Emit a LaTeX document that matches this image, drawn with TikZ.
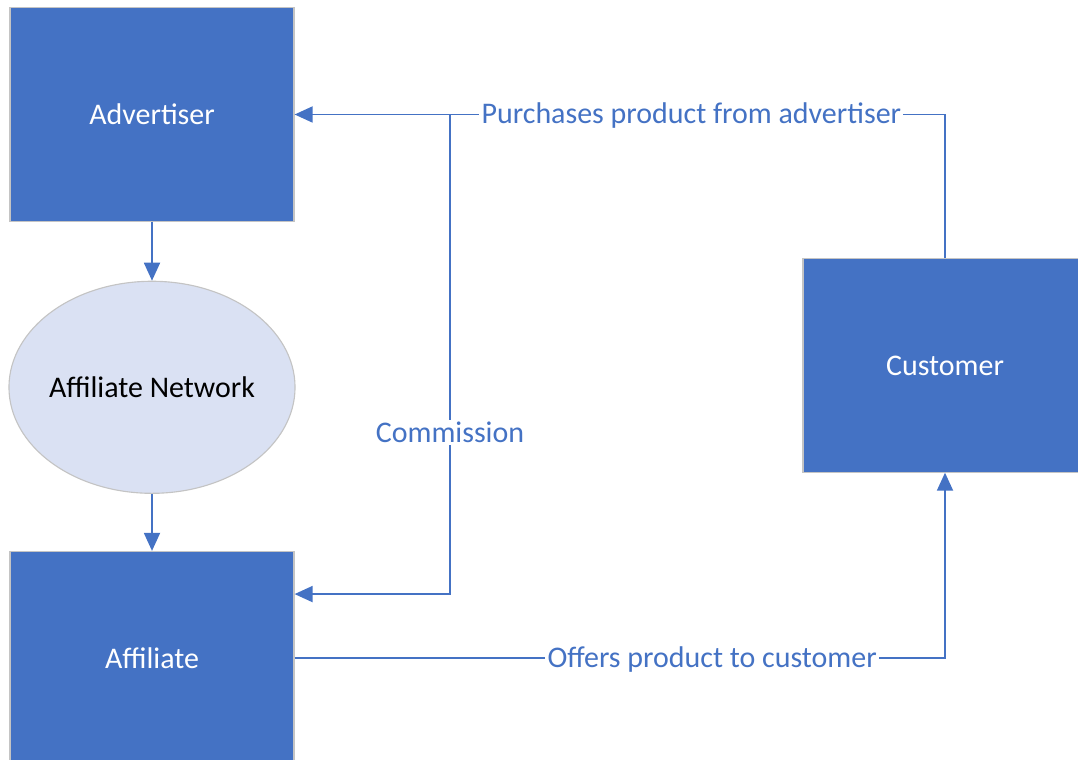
\documentclass[tikz,border=0pt]{standalone}
\usepackage{fontspec}
\setmainfont{Carlito}
\usetikzlibrary{positioning,shapes.geometric,arrows.meta}
\definecolor{boxblue}{HTML}{4472C4}
\definecolor{netfill}{HTML}{DAE1F3}
\definecolor{rimgray}{HTML}{C4C4C4}

\begin{document}
\begin{tikzpicture}[
    x=0.025cm, y=-0.025cm,
    every node/.style={font=\fontsize{21.3}{25}\selectfont},
    party/.style={draw=rimgray, line width=0.8pt, fill=boxblue, text=white,
      minimum width=7.1cm, minimum height=5.33cm, inner sep=0pt},
    network/.style={ellipse, draw=rimgray, line width=0.8pt, fill=netfill,
      minimum width=7.15cm, minimum height=5.3cm, inner ysep=0pt, inner xsep=-2pt},
    flow/.style={draw=boxblue, line width=1.3pt,
      -{Triangle[length=0.45cm, width=0.4cm]}},
    tag/.style={fill=white, text=boxblue, inner sep=1.5pt, yshift=-1pt}
  ]
  \clip (0,0) rectangle (1078,760);

  \node[party] (advertiser) at (152,114.5) {Advertiser};
  \node[network, below=1.475cm of advertiser] (network) {Affiliate Network};
  \node[party, below=1.425cm of network] (affiliate) {Affiliate};
  \node[party] (customer) at (945,365.5) {Customer};

  \coordinate (split) at (450,114.5);
  \coordinate (payin) at ([yshift=1.6cm]affiliate.east);

  \draw[flow] (advertiser) -- (network);
  \draw[flow] (network) -- (affiliate);
  \draw[flow] (customer.north) |- node[tag, pos=0.695] {Purchases product from advertiser} (advertiser.east);
  \draw[flow] (split) |- node[tag, pos=0.333, yshift=2pt] {Commission} (payin);
  \draw[flow] (affiliate.east) -| node[tag, pos=0.321] {Offers product to customer} (customer.south);
\end{tikzpicture}
\end{document}
